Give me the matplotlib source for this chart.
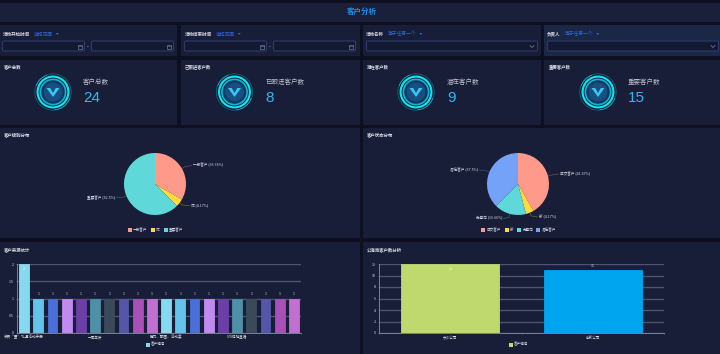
import numpy as np
import matplotlib
matplotlib.use("Agg")
import matplotlib.pyplot as plt
from matplotlib.patches import Rectangle, Circle, Wedge, FancyBboxPatch, Polygon

plt.rcParams['font.family'] = ['Noto Sans CJK SC', 'DejaVu Sans']

PAGE_TITLE = "客户分析"

FILTER_NAMES = ["活动开始时间", "活动结束时间", "活动名称", "负责人"]
FILTER_MODES = ["选择范围", "选择范围", "等于任意一个", "等于任意一个"]

KPI_TITLES = ["客户总数", "已跟进客户数", "潜在客户数", "重要客户数"]
KPI_VALUES = [24, 8, 9, 15]

LEVEL_TITLE = "客户级别分布"
LEVEL_NAMES = ["一般客户", "优", "重要客户"]
LEVEL_VALUES = [33.33, 4.17, 62.5]
LEVEL_COLORS = ["#ff9a8a", "#ffdb3c", "#5ed8d8"]

STATE_TITLE = "客户状态分布"
STATE_NAMES = ["成交客户", "新", "无意向", "潜在客户"]
STATE_VALUES = [41.67, 4.17, 16.66, 37.5]
STATE_COLORS = ["#ff9a8a", "#ffdb3c", "#5ed8d8", "#74a2f8"]

SOURCE_TITLE = "客户来源统计"
SOURCE_VALUES = [2, 1, 1, 1, 1, 1, 1, 1, 1, 1, 1, 1, 1, 1, 1, 1, 1, 1, 1, 1]
SOURCE_LABELS = {0: "会员“蛋”礼遇活动手册", 5: "一周年庆", 10: "腾力、歌圈、活动宴", 15: "570促销直播"}
SOURCE_COLORS = ["#87d9f0", "#62c4e8", "#4a6fd8", "#c08af0", "#6c3fa8",
                 "#4f8fa8", "#3a4a5a", "#5656a8", "#a850b8", "#c070d0"]

POOL_TITLE = "公海池客户数分析"
POOL_NAMES = ["长沙公司", "创新公司"]
POOL_VALUES = [12, 11]
POOL_COLORS = ["#c0d96e", "#00a5f0"]

BG = "#0e1022"
PANEL = "#191e38"
TEXT = "#d8dbe6"
SMALL = 2.6
W, H = 720, 354

fig = plt.figure(figsize=(7.2, 3.54), dpi=100, facecolor=BG)
ov = fig.add_axes([0, 0, 1, 1], zorder=0)
ov.set_xlim(0, W)
ov.set_ylim(H, 0)
ov.axis("off")
top = fig.add_axes([0, 0, 1, 1], zorder=5)
top.set_xlim(0, W)
top.set_ylim(H, 0)
top.axis("off")


def panel(x0, y0, x1, y1, color=PANEL):
    ov.add_patch(Rectangle((x0, y0), x1 - x0, y1 - y0, fc=color, ec="none"))


def px_axes(x0, y0, x1, y1, **kw):
    return fig.add_axes([x0 / W, 1 - y1 / H, (x1 - x0) / W, (y1 - y0) / H], **kw)


def input_box(x0, x1, y0=41, y1=51):
    ov.add_patch(FancyBboxPatch((x0 + 0.5, y0), x1 - x0 - 1, y1 - y0,
                                boxstyle="round,pad=0,rounding_size=1.5",
                                fc="#141933", ec="#2c3a6e", lw=0.8))


def date_icon(x, y):
    ov.add_patch(Rectangle((x - 2, y - 2), 4, 4, fc="none", ec="#6f7690", lw=0.5))
    ov.plot([x - 2, x + 2], [y - 0.7, y - 0.7], color="#6f7690", lw=0.4)


def filter_text(x, name, mode, mode_x):
    ov.text(x, 34, name, color=TEXT, fontsize=3.25, va="center", ha="left", fontweight="bold")
    ov.text(mode_x, 34, mode, color="#2f62d8", fontsize=3.45, va="center", ha="left")
    arrow_x = mode_x + len(mode) * 4.8 + 4
    ov.add_patch(Polygon([(arrow_x - 1.5, 33), (arrow_x + 1.5, 33), (arrow_x, 35)],
                         fc="#2f62d8", ec="none"))


def logo(cx, cy):
    ov.add_patch(Circle((cx, cy), 18.2, fc="none", ec="#0d6f80", lw=0.5))
    ov.add_patch(Wedge((cx, cy), 18.2, 20, 85, width=0.6, fc="#15c8dc", ec="none"))
    ov.add_patch(Wedge((cx, cy), 18.2, 200, 250, width=0.6, fc="#15c8dc", ec="none"))
    ov.add_patch(Circle((cx, cy), 15.4, fc="#0c2440", ec="#12e4f0", lw=1.5))
    ov.add_patch(Circle((cx, cy), 12.6, fc="#10395f", ec="#0fb4d4", lw=1.2))
    ov.add_patch(Circle((cx, cy), 9.5, fc="#194e80", ec="none"))
    ov.add_patch(Polygon([(cx - 6.5, cy - 4), (cx - 2.8, cy - 4), (cx, cy + 1),
                          (cx + 2.8, cy - 4), (cx + 6.5, cy - 4), (cx, cy + 5)],
                         fc="#38c8f5", ec="none"))


def kpi(x_text, title, value):
    ov.text(x_text, 82, title, color="#b9bdcb", fontsize=4.7, va="center", ha="left")
    ov.text(x_text, 97.5, str(value), color="#35b6ee", fontsize=11, va="center", ha="left",
            family="Liberation Sans")


def section_title(x, y, s):
    ov.text(x, y, s, color=TEXT, fontsize=3.2, va="center", ha="left", fontweight="bold")


def legend_item(x, y, color, s):
    ov.add_patch(Rectangle((x, y - 2), 4, 4, fc=color, ec="none"))
    ov.text(x + 5.5, y, s, color=TEXT, fontsize=SMALL, va="center", ha="left")


def draw_pie(cx, cy, r, values, colors, names, label_pos):
    ax = px_axes(cx - r, cy - r, cx + r, cy + r)
    wedges, _ = ax.pie(values, colors=colors, startangle=90, counterclock=False, radius=1.0,
                       wedgeprops={"linewidth": 0})
    ax.set_xlim(-1, 1)
    ax.set_ylim(-1, 1)
    ax.axis("off")
    for w, name, v, (tx, ty, ha), col in zip(wedges, names, values, label_pos, colors):
        ang = np.deg2rad((w.theta1 + w.theta2) / 2)
        ex, ey = cx + r * np.cos(ang), cy - r * np.sin(ang)
        mx, my = cx + (r + 3.5) * np.cos(ang), cy - (r + 3.5) * np.sin(ang)
        end_x = tx - 1.5 if ha == "left" else tx + 1.5
        top.plot([ex, mx, end_x], [ey, my, ty], color=col, lw=0.4, alpha=0.45)
        top.text(tx, ty, f"{name} ({v:g}%)", color=TEXT, fontsize=SMALL, va="center", ha=ha)


def draw_bars(x0, x1, values, colors, ymax, yticks, fmt_ticks, width, labels, inside_top, n_sep):
    ax = px_axes(x0, 264, x1, 333)
    ax.patch.set_alpha(0)
    pos = np.arange(len(values))
    ax.bar(pos, values, width=width, color=colors, zorder=3, linewidth=0.6, edgecolor=colors)
    ax.set_xlim(-0.5, len(values) - 0.5)
    ax.set_ylim(0, ymax)
    ax.set_yticks(yticks)
    ax.set_yticklabels(fmt_ticks, color=TEXT, fontsize=SMALL)
    ax.set_xticks(np.arange(0, len(values) + 1, n_sep) - 0.5)
    ax.set_xticklabels([])
    ax.tick_params(axis="both", length=1, width=0.4, color="#7a8098", pad=1.5)
    ax.grid(axis="y", color="#4d5370", lw=1.0, zorder=1)
    ax.set_axisbelow(True)
    for s in ["top", "right"]:
        ax.spines[s].set_visible(False)
    for s in ["left", "bottom"]:
        ax.spines[s].set_color("#7a8098")
        ax.spines[s].set_linewidth(0.7)
    for i, v in enumerate(values):
        if v == inside_top:
            ax.annotate(str(v), (i, v), xytext=(0, -3.5), textcoords="offset points", color="white",
                        fontsize=SMALL, ha="center", va="center", zorder=5)
        else:
            ax.annotate(str(v), (i, v), xytext=(0, 3), textcoords="offset points", color=TEXT,
                        fontsize=SMALL, ha="center", va="center", zorder=5)
    for i, s in labels.items():
        ax.annotate(s, (i, 0), xytext=(0, -3), textcoords="offset points", color=TEXT,
                    fontsize=SMALL, ha="center", va="center", annotation_clip=False)
    return ax


# header
panel(0, 3, 720, 22, "#1a2039")
ov.text(362, 11.5, PAGE_TITLE, color="#1c8fe6", fontsize=5.4, ha="center", va="center", fontweight="bold")

# filter row
panel(0, 25, 177, 56)
panel(181, 25, 360, 56)
panel(363, 25, 541, 56)
panel(544, 25, 720, 56, "#1a2745")

filter_text(3, FILTER_NAMES[0], FILTER_MODES[0], 34)
filter_text(184.5, FILTER_NAMES[1], FILTER_MODES[1], 216)
filter_text(366, FILTER_NAMES[2], FILTER_MODES[2], 388)
filter_text(547, FILTER_NAMES[3], FILTER_MODES[3], 565)

for a, b in [(2, 85), (91, 174), (184, 267), (273, 356)]:
    input_box(a, b)
    date_icon(b - 5, 46.5)
ov.text(88, 46.5, "-", color=TEXT, fontsize=4, ha="center", va="center")
ov.text(270, 46.5, "-", color=TEXT, fontsize=4, ha="center", va="center")
input_box(366, 538)
input_box(547, 719)
for x in [532, 713]:
    ov.plot([x - 2, x, x + 2], [45.5, 47.5, 45.5], color="#7a8098", lw=0.5)

# kpi row
kpi_boxes = [(0, 177), (181, 360), (363, 541), (544, 720)]
kpi_titles_x = [4, 185, 367, 549]
logo_x = [53, 234.5, 416, 598]
value_x = [83, 265, 447, 628]
for (a, b), tx, lx, vx, title, val in zip(kpi_boxes, kpi_titles_x, logo_x, value_x, KPI_TITLES, KPI_VALUES):
    panel(a, 60, b, 125)
    section_title(tx, 67, title)
    logo(lx, 92)
    kpi(vx, title, val)

# pie row
panel(0, 128, 360, 238)
panel(363, 128, 720, 238)
section_title(4, 135, LEVEL_TITLE)
section_title(367, 135, STATE_TITLE)

draw_pie(155, 184, 31, LEVEL_VALUES, LEVEL_COLORS, LEVEL_NAMES,
         [(193, 165.5, "left"), (191, 205.5, "left"), (115, 197.5, "right")])
draw_pie(518, 184, 31, STATE_VALUES, STATE_COLORS, STATE_NAMES,
         [(560, 174, "left"), (539, 217, "left"), (502, 218.5, "right"), (478, 170, "right")])

for x, c, s in zip([127.5, 150.5, 163.5], LEVEL_COLORS, LEVEL_NAMES):
    legend_item(x, 230, c, s)
for x, c, s in zip([481, 504.5, 517, 536], STATE_COLORS, STATE_NAMES):
    legend_item(x, 230, c, s)

# bar row
panel(0, 242, 360, 354)
panel(363, 242, 720, 354)
section_title(4, 250, SOURCE_TITLE)
section_title(367, 250, POOL_TITLE)

src_colors = [SOURCE_COLORS[i % len(SOURCE_COLORS)] for i in range(len(SOURCE_VALUES))]
draw_bars(17, 301, SOURCE_VALUES, src_colors, 2, [0, 0.5, 1, 1.5, 2], ["0", "0.5", "1", "1.5", "2"],
          0.7, SOURCE_LABELS, 2, 5)
draw_bars(379, 664, POOL_VALUES, POOL_COLORS, 12, list(range(0, 13, 2)),
          [str(t) for t in range(0, 13, 2)], 0.69, dict(enumerate(POOL_NAMES)), 12, 1)

legend_item(145.5, 344.5, SOURCE_COLORS[0], "客户编号")
legend_item(508.5, 344.5, POOL_COLORS[0], "客户编号")

fig.savefig("out.png", dpi=100, facecolor=BG)
